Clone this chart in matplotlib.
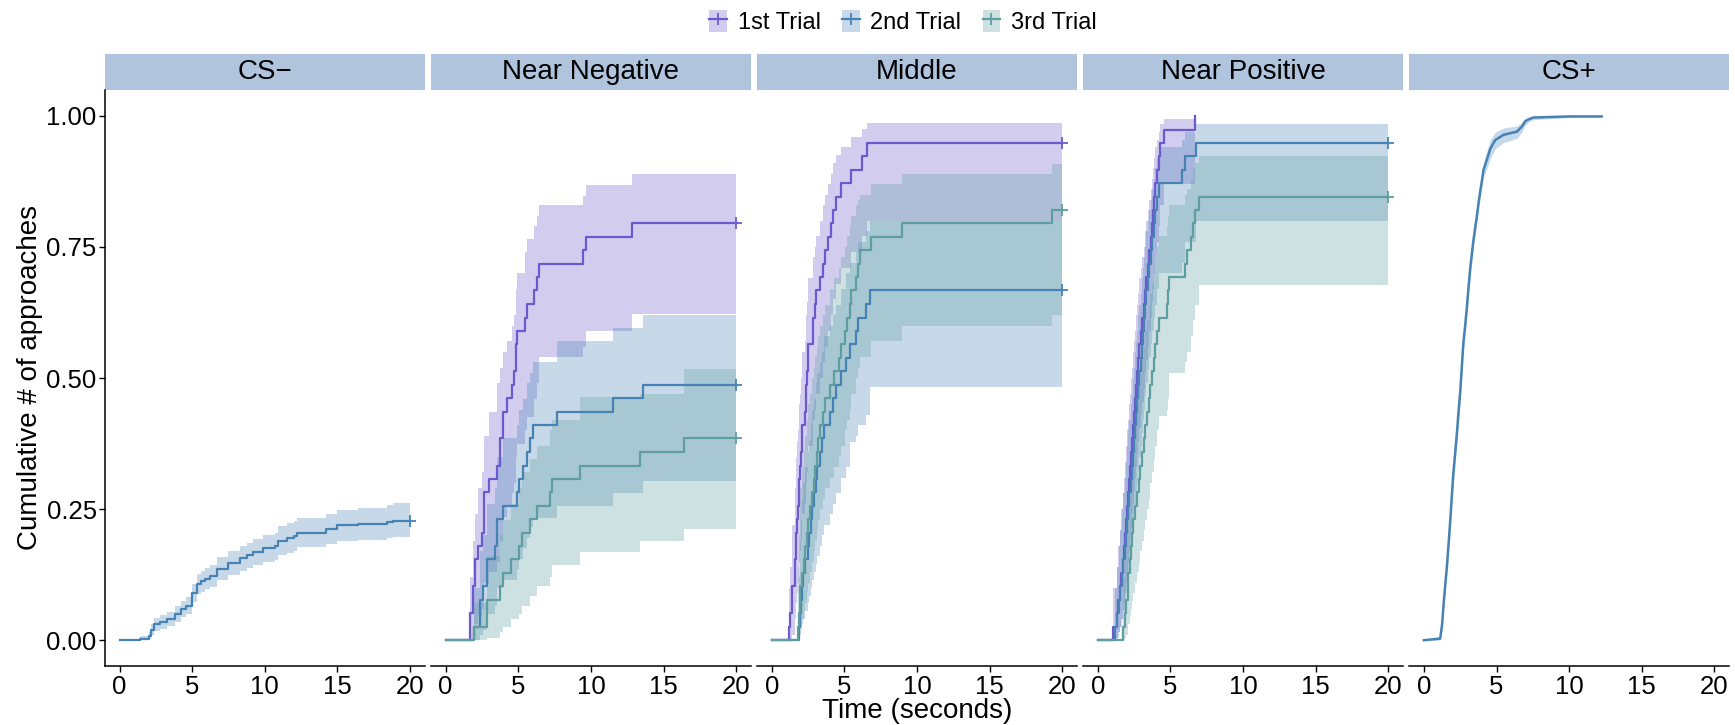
import matplotlib
matplotlib.use("Agg")
import matplotlib.pyplot as plt
from matplotlib.patches import Rectangle, Patch
from matplotlib.lines import Line2D

plt.rcParams['font.family'] = ['Liberation Sans', 'DejaVu Sans']

# ---------------- data ----------------
panels = ["CS\u2212", "Near Negative", "Middle", "Near Positive", "CS+"]
trials = ["1st Trial", "2nd Trial", "3rd Trial"]
colors = ["#6A5ACD", "#4682B4", "#5F9EA0"]
x_ticks = [0, 5, 10, 15, 20]
y_ticks = [0.0, 0.25, 0.5, 0.75, 1.0]
y_ticklabels = ["0.00", "0.25", "0.50", "0.75", "1.00"]

# CS- (single curve)
csm_t = [0, 1.4, 2.0, 2.2, 2.4, 2.8, 3.3, 3.8, 4.2, 4.6, 5.0, 5.3, 5.6, 5.9, 6.2, 6.7, 7.5, 8.3, 8.8, 9.2,
         9.9, 10.7, 10.9, 11.5, 12.0, 12.2, 14.2, 15.0, 16.4, 18.4, 18.8]
csm_y = [0, .003, .008, .02, .03, .035, .04, .05, .06, .066, .09, .107, .112, .117, .123, .136, .148, .156, .162, .168,
         .175, .179, .19, .195, .199, .205, .212, .219, .222, .226, .228]
csm_lo = [0, 0, .002, .01, .018, .022, .027, .035, .045, .05, .072, .088, .092, .097, .102, .114, .125, .132, .138, .143,
          .149, .153, .163, .167, .171, .177, .183, .19, .192, .195, .196]
csm_hi = [0, .008, .015, .03, .042, .048, .053, .065, .075, .082, .108, .126, .132, .137, .144, .158, .171, .18, .186, .193,
          .201, .205, .217, .223, .227, .233, .241, .248, .252, .257, .262]

# CS+ (single curve, many small steps -> drawn as a line)
csp_t = [0, 1.12, 1.25, 1.35, 1.45, 1.58, 1.70, 1.81, 1.92, 2.03, 2.15, 2.27, 2.38, 2.50, 2.61, 2.72, 2.84, 2.96, 3.07, 3.19,
         3.30, 3.41, 3.53, 3.65, 3.76, 3.88, 4.00, 4.10, 4.22, 4.34, 4.45, 4.57, 4.74, 4.91, 5.20, 5.48, 5.95, 6.41, 6.75, 6.98,
         7.25, 7.55, 8.8, 10.08, 11.2, 12.23]
csp_y = [0, .003, .03, .067, .10, .14, .185, .228, .275, .32, .357, .395, .435, .475, .522, .569, .60, .636, .673, .71,
         .737, .763, .787, .81, .834, .857, .878, .897, .907, .917, .927, .937, .946, .954, .959, .964, .967, .970, .98, .99,
         .994, .997, .998, .999, .999, .999]
csp_lo = [0, 0, .022, .056, .088, .127, .171, .213, .259, .303, .34, .378, .418, .458, .505, .553, .585, .621, .659, .696,
          .724, .751, .775, .799, .823, .846, .866, .883, .891, .900, .909, .919, .928, .937, .943, .949, .953, .957, .970, .983,
          .989, .993, .995, .997, .997, .997]
csp_hi = [0, .008, .039, .078, .112, .153, .199, .243, .291, .337, .374, .412, .452, .492, .539, .585, .615, .651, .687, .724,
          .75, .775, .799, .821, .845, .868, .89, .911, .923, .934, .944, .954, .962, .969, .973, .977, .979, .981, .988, .995,
          .998, 1.0, 1.0, 1.0, 1.0, 1.0]

# Near Negative
nn1_t = [0, 1.68, 1.86, 2.02, 2.25, 2.48, 2.67, 2.99, 3.56, 3.75, 3.98, 4.25, 4.55, 4.71, 4.85, 4.90, 5.47, 5.63, 6.11, 6.28, 6.46, 9.49, 9.66, 12.85]
nn1_y = [0, .051, .103, .154, .179, .205, .282, .308, .333, .385, .436, .462, .487, .513, .564, .590, .615, .641, .667, .692, .718, .744, .769, .795]
nn1_lo = [0, 0, 0, .03, .045, .06, .11, .13, .15, .19, .235, .255, .28, .30, .35, .375, .40, .425, .46, .49, .54, .56, .59, .622]
nn1_hi = [0, .12, .19, .24, .29, .32, .39, .435, .49, .52, .55, .57, .60, .62, .67, .70, .74, .765, .79, .81, .83, .848, .869, .889]

nn2_t = [0, 1.98, 2.37, 2.55, 2.83, 3.40, 3.56, 3.98, 4.90, 5.07, 5.36, 5.60, 5.83, 5.99, 7.65, 11.50, 13.59]
nn2_y = [0, .026, .077, .103, .154, .179, .231, .256, .282, .308, .333, .359, .385, .410, .436, .462, .487]
nn2_lo = [0, 0, .01, .02, .05, .065, .10, .115, .135, .155, .175, .195, .215, .234, .256, .281, .304]
nn2_hi = [0, .10, .17, .20, .26, .29, .35, .385, .41, .44, .46, .49, .51, .53, .571, .596, .62]

nn3_t = [0, 1.98, 2.83, 3.75, 3.98, 4.50, 5.06, 5.24, 5.81, 6.27, 7.19, 7.35, 9.24, 13.40, 16.44]
nn3_y = [0, .026, .077, .103, .128, .154, .179, .205, .231, .256, .282, .308, .333, .359, .385]
nn3_lo = [0, 0, .005, .015, .025, .04, .05, .066, .084, .104, .12, .144, .168, .189, .212]
nn3_hi = [0, .07, .16, .20, .23, .26, .29, .32, .345, .37, .40, .42, .464, .47, .518]

# Middle
md1_t = [0, 1.17, 1.29, 1.40, 1.62, 1.68, 1.74, 1.80, 1.86, 1.96, 2.02, 2.07, 2.26, 2.33, 2.37, 2.45, 2.53, 2.83, 2.95, 3.06,
         3.29, 3.55, 3.70, 3.86, 4.05, 4.21, 4.39, 4.78, 5.47, 6.21, 6.55]
md1_y = [0, .026, .051, .103, .154, .205, .231, .256, .308, .333, .359, .41, .436, .462, .487, .513, .564, .615, .641, .667,
         .692, .718, .744, .769, .795, .821, .846, .872, .897, .923, .949]
md1_lo = [0, 0, 0, .01, .04, .07, .09, .11, .15, .17, .19, .24, .26, .28, .30, .32, .37, .42, .44, .47,
          .50, .53, .56, .59, .62, .65, .68, .71, .74, .77, .80]
md1_hi = [0, .10, .14, .22, .29, .35, .38, .40, .45, .47, .50, .55, .57, .60, .62, .645, .69, .73, .75, .77,
          .80, .83, .85, .87, .89, .91, .925, .94, .96, .975, .987]

md2_t = [0, 1.86, 1.95, 2.00, 2.10, 2.14, 2.30, 2.49, 2.60, 2.71, 2.80, 2.94, 3.05, 3.15, 3.29, 3.45, 3.63, 3.98, 4.21, 4.44,
         4.78, 5.13, 5.36, 5.77, 5.93, 6.51, 6.74]
md2_y = [0, .026, .051, .077, .103, .128, .154, .179, .205, .231, .256, .282, .308, .333, .359, .385, .410, .436, .462, .487,
         .513, .538, .564, .590, .615, .641, .667]
md2_lo = [0, 0, .01, .02, .03, .04, .055, .07, .085, .10, .115, .13, .145, .16, .18, .20, .22, .24, .26, .28,
          .31, .33, .378, .39, .41, .43, .482]
md2_hi = [0, .12, .19, .23, .27, .30, .33, .36, .38, .41, .44, .46, .49, .51, .53, .55, .58, .60, .62, .64,
          .67, .70, .72, .74, .76, .78, .80]

md3_t = [0, 1.79, 1.86, 1.92, 1.98, 2.10, 2.20, 2.30, 2.40, 2.52, 2.64, 2.76, 2.88, 3.00, 3.10, 3.20, 3.35, 3.52, 3.70, 3.98,
         4.32, 4.60, 4.78, 5.01, 5.17, 5.36, 5.47, 5.82, 5.95, 6.05, 6.85, 8.97, 19.31]
md3_y = [0, .026, .051, .077, .103, .128, .154, .179, .205, .231, .256, .282, .308, .333, .359, .385, .410, .436, .462, .487,
         .513, .538, .564, .590, .615, .641, .667, .692, .718, .744, .769, .795, .820]
md3_lo = [0, 0, .005, .015, .025, .04, .055, .07, .09, .11, .13, .15, .17, .19, .21, .23, .25, .27, .29, .31,
          .33, .35, .37, .40, .42, .44, .47, .50, .52, .54, .57, .60, .62]
md3_hi = [0, .14, .20, .25, .29, .33, .36, .39, .42, .45, .47, .50, .52, .54, .56, .58, .60, .62, .64, .67,
          .69, .71, .73, .75, .77, .79, .81, .83, .84, .85, .87, .889, .908]

# Near Positive
np1_t = [0, 1.02, 1.32, 1.40, 1.50, 1.62, 1.70, 1.80, 1.90, 1.96, 2.03, 2.10, 2.17, 2.24, 2.30, 2.38, 2.45, 2.52, 2.58, 2.62,
         2.70, 2.78, 2.85, 2.95, 3.05, 3.15, 3.24, 3.35, 3.45, 3.55, 3.63, 3.70, 3.78, 3.86, 3.95, 4.08, 4.20, 4.31, 4.54, 6.68]
np1_y = [0, .026, .051, .077, .103, .128, .154, .179, .205, .231, .256, .282, .308, .333, .359, .385, .410, .436, .462, .487,
         .513, .538, .564, .590, .615, .641, .667, .692, .718, .744, .769, .795, .821, .846, .872, .897, .923, .949, .974, 1.0]
np1_lo = [0, 0, .005, .015, .025, .04, .055, .07, .09, .11, .13, .15, .17, .195, .215, .24, .26, .285, .31, .33,
          .355, .38, .405, .43, .455, .48, .51, .535, .56, .59, .615, .645, .67, .70, .73, .76, .79, .83, .87, 1.0]
np1_hi = [0, .10, .14, .18, .21, .25, .28, .31, .34, .37, .40, .42, .45, .47, .50, .52, .55, .57, .59, .62,
          .64, .66, .69, .71, .73, .75, .78, .80, .82, .84, .86, .88, .90, .92, .94, .955, .97, .985, .995, 1.0]

np2_t = [0, 1.21, 1.35, 1.45, 1.55, 1.66, 1.75, 1.85, 1.94, 2.02, 2.10, 2.18, 2.26, 2.33, 2.40, 2.48, 2.56, 2.63, 2.70, 2.78,
         2.86, 2.94, 3.02, 3.10, 3.18, 3.26, 3.35, 3.45, 3.55, 3.65, 3.75, 3.85, 3.95, 4.05, 4.20, 5.79, 6.03, 6.73]
np2_y = [0, .026, .051, .077, .103, .128, .154, .179, .205, .231, .256, .282, .308, .333, .359, .385, .410, .436, .462, .487,
         .513, .538, .564, .590, .615, .641, .667, .692, .718, .744, .769, .795, .821, .846, .872, .897, .923, .949]
np2_lo = [0, 0, .005, .015, .025, .04, .055, .07, .09, .11, .13, .15, .17, .19, .21, .235, .255, .28, .30, .325,
          .35, .37, .395, .42, .44, .465, .49, .515, .54, .565, .59, .615, .64, .67, .70, .72, .76, .80]
np2_hi = [0, .10, .14, .18, .21, .25, .28, .31, .34, .37, .40, .42, .45, .47, .50, .52, .55, .57, .59, .62,
          .64, .66, .69, .71, .73, .75, .78, .80, .82, .84, .86, .88, .90, .92, .94, .955, .97, .984]

np3_t = [0, 1.70, 1.85, 1.95, 2.05, 2.11, 2.20, 2.28, 2.34, 2.45, 2.57, 2.68, 2.80, 2.90, 3.03, 3.15, 3.26, 3.38, 3.49, 3.60,
         3.72, 3.85, 3.95, 4.05, 4.18, 4.76, 4.80, 4.87, 6.03, 6.15, 6.40, 6.55, 6.71, 6.94]
np3_y = [0, .026, .051, .077, .103, .128, .154, .179, .205, .231, .256, .282, .308, .333, .359, .385, .410, .436, .462, .487,
         .513, .538, .564, .590, .615, .641, .667, .692, .718, .744, .769, .795, .821, .846]
np3_lo = [0, 0, .005, .01, .02, .03, .045, .06, .075, .09, .11, .13, .15, .17, .19, .21, .23, .25, .27, .30,
          .32, .345, .37, .40, .427, .44, .46, .51, .53, .55, .58, .61, .64, .678]
np3_hi = [0, .12, .17, .21, .25, .28, .31, .34, .37, .40, .43, .46, .49, .51, .54, .56, .59, .61, .64, .66,
          .68, .71, .73, .75, .77, .79, .81, .83, .85, .86, .88, .90, .91, .924]

# (panel index, trial index, t, y, lo, hi, end time, censor mark, stepped)
series = [
    (0, 1, csm_t, csm_y, csm_lo, csm_hi, 20, True, True),
    (1, 0, nn1_t, nn1_y, nn1_lo, nn1_hi, 20, True, True),
    (1, 1, nn2_t, nn2_y, nn2_lo, nn2_hi, 20, True, True),
    (1, 2, nn3_t, nn3_y, nn3_lo, nn3_hi, 20, True, True),
    (2, 0, md1_t, md1_y, md1_lo, md1_hi, 20, True, True),
    (2, 1, md2_t, md2_y, md2_lo, md2_hi, 20, True, True),
    (2, 2, md3_t, md3_y, md3_lo, md3_hi, 20, True, True),
    (3, 0, np1_t, np1_y, np1_lo, np1_hi, None, False, True),
    (3, 1, np2_t, np2_y, np2_lo, np2_hi, 20, True, True),
    (3, 2, np3_t, np3_y, np3_lo, np3_hi, 20, True, True),
    (4, 1, csp_t, csp_y, csp_lo, csp_hi, None, False, False),
]

# ---------------- figure ----------------
W, H = 1735, 725
fig = plt.figure(figsize=(W / 100, H / 100), dpi=100)

left0, pw, step = 105, 319.6, 326.1
top_px, bot_px = 89.7, 666.4
strip_h = 35.4
axes = []
for i, name in enumerate(panels):
    l = left0 + i * step
    ax = fig.add_axes([l / W, (H - bot_px) / H, pw / W, (bot_px - top_px) / H])
    ax.set_xlim(-1, 21)
    ax.set_ylim(-0.05, 1.05)
    for s in ["top", "right"]:
        ax.spines[s].set_visible(False)
    ax.spines["bottom"].set_linewidth(1.1)
    ax.spines["left"].set_linewidth(1.1)
    ax.set_xticks(x_ticks)
    ax.set_xticklabels([str(v) for v in x_ticks])
    ax.tick_params(axis="x", direction="out", length=4, width=1.0, labelsize=18.5, pad=2, colors="black")
    if i == 0:
        ax.set_yticks(y_ticks)
        ax.set_yticklabels(y_ticklabels)
        ax.tick_params(axis="y", direction="out", length=4, width=1.0, labelsize=18.5, pad=2)
    else:
        ax.spines["left"].set_visible(False)
        ax.set_yticks([])
    ax.patch.set_alpha(0)
    sh = strip_h / (bot_px - top_px)
    ax.add_patch(Rectangle((0, 1.0), 1, sh, transform=ax.transAxes, facecolor="#B0C4DE",
                           edgecolor="none", clip_on=False))
    ax.text(0.5, 1.0 + sh / 2, name, transform=ax.transAxes, ha="center", va="center",
            fontsize=20, color="black")
    axes.append(ax)

# ribbons first
for p, k, t, y, lo, hi, end, cens, stepped in series:
    ax = axes[p]
    if stepped:
        tt = list(t) + ([end] if end is not None else [t[-1]])
        ax.fill_between(tt, list(lo) + [lo[-1]], list(hi) + [hi[-1]], step="post",
                        color=colors[k], alpha=0.3, linewidth=0)
    else:
        ax.fill_between(t, lo, hi, color=colors[k], alpha=0.3, linewidth=0)

# lines
for p, k, t, y, lo, hi, end, cens, stepped in series:
    ax = axes[p]
    if stepped:
        tt = list(t) + ([end] if end is not None else [t[-1]])
        yy = list(y) + [y[-1]]
        ax.step(tt, yy, where="post", color=colors[k], lw=1.6)
    else:
        ax.plot(t, y, color=colors[k], lw=1.8, solid_joinstyle="round")
    if cens:
        ax.plot([end], [y[-1]], marker="+", color=colors[k], markersize=9, mew=1.3, linestyle="none")

# axis titles
fig.text(30 / W, 1 - 378 / H, "Cumulative # of approaches", rotation=90, ha="center", va="center", fontsize=20)
fig.text(917 / W, 1 - 711 / H, "Time (seconds)", ha="center", va="center", fontsize=20)

# legend
handles = []
for c in colors:
    handles.append((Patch(facecolor=c, alpha=0.3, edgecolor="none"),
                    Line2D([], [], color=c, lw=1.6, marker="+", markersize=9, mew=1.3)))
fig.legend(handles, trials, loc="center", bbox_to_anchor=(903 / W, 1 - 22 / H), ncol=3,
           frameon=False, fontsize=17, handlelength=0.75, handleheight=1.1,
           handletextpad=0.45, columnspacing=0.9)

fig.savefig("out.png", dpi=100)
